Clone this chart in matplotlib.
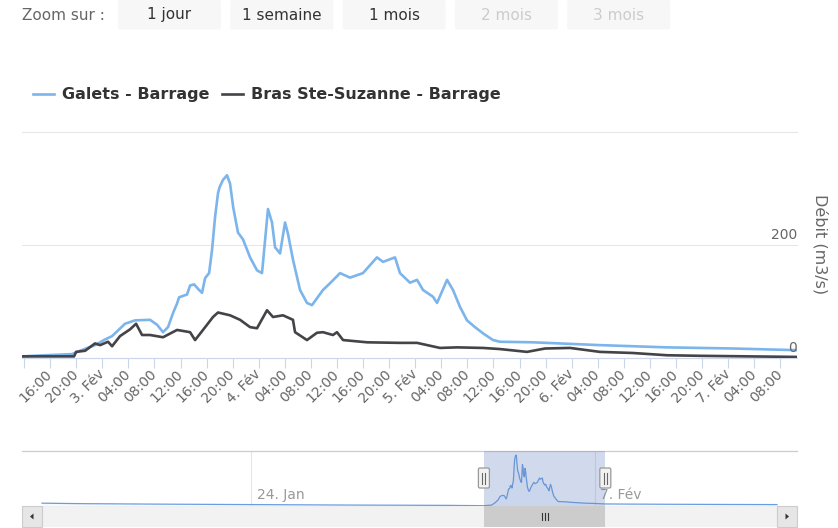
import matplotlib
matplotlib.use("Agg")
import matplotlib.pyplot as plt
import matplotlib.dates as mdates
import pandas as pd
from matplotlib.patches import Rectangle, FancyBboxPatch, Polygon

plt.rcParams['font.family'] = ['DejaVu Sans']

# ---------------- data ----------------
galets_time = [
    "2022-02-02 11:41", "2022-02-02 15:13", "2022-02-02 19:22", "2022-02-02 20:35", "2022-02-02 22:53",
    "2022-02-03 00:25", "2022-02-03 01:30", "2022-02-03 03:29", "2022-02-03 05:01", "2022-02-03 07:20",
    "2022-02-03 08:25", "2022-02-03 09:19", "2022-02-03 10:05", "2022-02-03 10:51", "2022-02-03 11:28",
    "2022-02-03 11:47", "2022-02-03 13:00", "2022-02-03 13:28", "2022-02-03 14:05", "2022-02-03 14:51",
    "2022-02-03 15:18", "2022-02-03 15:46", "2022-02-03 16:23", "2022-02-03 16:50", "2022-02-03 17:18",
    "2022-02-03 17:45", "2022-02-03 18:00", "2022-02-03 18:32", "2022-02-03 19:08", "2022-02-03 19:36",
    "2022-02-03 20:05", "2022-02-03 20:49", "2022-02-03 21:35",
    "2022-02-03 22:40", "2022-02-03 23:44", "2022-02-04 00:30", "2022-02-04 01:25", "2022-02-04 02:02",
    "2022-02-04 02:30", "2022-02-04 03:16", "2022-02-04 04:02", "2022-02-04 04:29", "2022-02-04 05:15",
    "2022-02-04 06:20", "2022-02-04 07:24", "2022-02-04 08:10", "2022-02-04 09:51", "2022-02-04 10:56",
    "2022-02-04 12:28", "2022-02-04 14:00", "2022-02-04 15:59", "2022-02-04 18:08", "2022-02-04 19:04",
    "2022-02-04 20:54", "2022-02-04 21:40", "2022-02-04 23:12", "2022-02-05 00:17", "2022-02-05 01:12",
    "2022-02-05 02:44", "2022-02-05 03:21", "2022-02-05 04:53", "2022-02-05 05:48", "2022-02-05 06:52",
    "2022-02-05 07:57", "2022-02-05 09:10", "2022-02-05 10:24", "2022-02-05 11:56", "2022-02-05 13:00",
    "2022-02-05 18:04", "2022-02-06 04:20", "2022-02-06 14:37", "2022-02-07 00:44", "2022-02-07 10:34",
]
galets_value = [
    2, 4, 6, 12, 22,
    32, 38, 60, 66, 67,
    58, 45, 54, 79, 96,
    107, 112, 128, 130, 120,
    115, 141, 150, 191, 250,
    292, 303, 316, 324, 309,
    267, 222, 210,
    178, 155, 150, 264, 240,
    196, 185, 240, 220, 174,
    120, 97, 93, 120, 132,
    150, 142, 150, 178, 170,
    178, 150, 133, 138, 120,
    108, 97, 138, 120, 90,
    66, 54, 43, 31, 28,
    27, 22, 18, 16, 13,
]

bras_time = [
    "2022-02-02 11:41", "2022-02-02 19:40", "2022-02-02 19:59", "2022-02-02 21:22", "2022-02-02 22:53",
    "2022-02-02 23:40", "2022-02-03 00:53", "2022-02-03 01:30", "2022-02-03 02:43", "2022-02-03 04:15",
    "2022-02-03 05:11", "2022-02-03 06:06", "2022-02-03 07:20", "2022-02-03 09:19", "2022-02-03 11:28",
    "2022-02-03 13:28", "2022-02-03 14:14", "2022-02-03 15:27", "2022-02-03 16:59", "2022-02-03 17:45",
    "2022-02-03 19:36", "2022-02-03 21:08", "2022-02-03 22:40", "2022-02-03 23:44", "2022-02-04 01:16",
    "2022-02-04 02:11", "2022-02-04 03:43", "2022-02-04 05:15", "2022-02-04 05:34", "2022-02-04 07:24",
    "2022-02-04 08:56", "2022-02-04 09:51", "2022-02-04 11:23", "2022-02-04 12:00", "2022-02-04 12:56",
    "2022-02-04 16:37", "2022-02-04 21:40", "2022-02-05 00:17", "2022-02-05 03:48", "2022-02-05 06:25",
    "2022-02-05 10:24", "2022-02-05 13:00", "2022-02-05 17:09", "2022-02-05 19:55", "2022-02-05 23:45",
    "2022-02-06 04:20", "2022-02-06 09:24", "2022-02-06 14:37", "2022-02-06 19:41", "2022-02-07 10:34",
]
bras_value = [
    2, 2, 10, 12, 25,
    22, 28, 20, 38, 50,
    60, 40, 40, 36, 49,
    45, 31, 49, 72, 80,
    75, 67, 54, 52, 84,
    72, 75, 67, 45, 31,
    44, 45, 40, 45, 31,
    27, 26, 26, 17, 18,
    17, 15, 10, 16, 17,
    10, 8, 4, 3, 1,
]

# navigator-only extension of the Galets series (outside the zoomed window)
nav_before_time = ["2022-01-15 11:00", "2022-01-17 00:00", "2022-01-20 00:00",
                   "2022-01-24 00:00", "2022-01-28 00:00", "2022-02-01 00:00"]
nav_before_value = [18, 15, 12, 9, 6, 4]
nav_after_time = ["2022-02-08 12:00", "2022-02-10 00:00", "2022-02-12 00:00", "2022-02-14 10:40"]
nav_after_value = [12, 11, 10, 9]

series_names = ["Galets - Barrage", "Bras Ste-Suzanne - Barrage"]
y_ticks = [0, 200, 400]
y_tick_labels = ["0", "200", ""]
y_title = "Débit (m3/s)"
zoom_label = "Zoom sur :"
zoom_buttons = ["1 jour", "1 semaine", "1 mois", "2 mois", "3 mois"]
zoom_enabled = [True, True, True, False, False]
nav_tick_dates = ["2022-01-24", "2022-02-07"]
nav_tick_labels = ["24. Jan", "7. Fév"]
mois = {1: "Jan", 2: "Fév"}

win_start = pd.Timestamp("2022-02-02 11:41")
win_end = pd.Timestamp("2022-02-07 10:34")

# ---------------- layout ----------------
W, H = 838, 528
fig = plt.figure(figsize=(W / 100, H / 100), dpi=100)


def rect(l, t, r, b):
    return [l / W, 1 - b / H, (r - l) / W, (b - t) / H]


ui = fig.add_axes([0, 0, 1, 1], zorder=0)
ui.set_xlim(0, W); ui.set_ylim(H, 0); ui.axis('off')

ax = fig.add_axes(rect(22, 132.5, 797, 357.5), zorder=2)
ax.patch.set_alpha(0)
nav = fig.add_axes(rect(22, 451, 797, 506), zorder=1)
nav.patch.set_alpha(0)
top = fig.add_axes([0, 0, 1, 1], zorder=3)
top.set_xlim(0, W); top.set_ylim(H, 0); top.axis('off'); top.patch.set_alpha(0)

BLUE = '#7cb5ec'
DARK = '#434348'

gt = pd.to_datetime(galets_time)
bt = pd.to_datetime(bras_time)
l1, = ax.plot(gt, galets_value, color=BLUE, lw=1.9, solid_joinstyle='round', zorder=3)
l2, = ax.plot(bt, bras_value, color=DARK, lw=1.9, solid_joinstyle='round', zorder=4)
ax.set_xlim(win_start, win_end)
ax.set_ylim(0, 400)
for s in ['top', 'left', 'right']:
    ax.spines[s].set_visible(False)
ax.spines['bottom'].set_color('#ccd6eb')
ax.spines['bottom'].set_linewidth(0.8)
ax.set_yticks(y_ticks)
ax.tick_params(axis='y', length=0, labelleft=False)
for v in y_ticks:
    ax.axhline(v, color='#e6e6e6', lw=0.75, zorder=0, clip_on=False)
for v, lab in zip(y_ticks, y_tick_labels):
    if lab:
        ax.annotate(lab, xy=(1, v), xycoords=('axes fraction', 'data'), xytext=(0, 2),
                    textcoords='offset points', ha='right', va='bottom', color='#666666', fontsize=10)

ticks = pd.date_range("2022-02-02 12:00", "2022-02-07 08:00", freq="4h")
labels = []
for i, t in enumerate(ticks):
    if i == 0:
        labels.append("")
    elif t.hour == 0:
        labels.append(f"{t.day}. {mois[t.month]}")
    else:
        labels.append(t.strftime("%H:%M"))
ax.set_xticks(ticks)
ax.set_xticklabels(labels)
ax.tick_params(axis='x', length=7.5, width=0.8, color='#ccd6eb', labelsize=10,
               labelcolor='#666666', pad=3)
for lab in ax.get_xticklabels():
    lab.set_rotation(45)
    lab.set_ha('right')
    lab.set_va('center')
    lab.set_rotation_mode('anchor')

fig.text(820 / W, 1 - 244 / H, y_title, rotation=270, ha='center', va='center',
         color='#666666', fontsize=11.5)

leg = fig.legend(handles=[l1, l2], labels=series_names, loc='center left',
                 bbox_to_anchor=(33 / W, 1 - 95 / H), ncol=2, frameon=False,
                 prop={'weight': 'bold', 'size': 11.5}, labelcolor='#333333',
                 handlelength=1.3, handletextpad=0.5, columnspacing=0.8,
                 borderpad=0, borderaxespad=0)

# ---------------- zoom buttons ----------------
ui.text(22, 15, zoom_label, ha='left', va='center', color='#666666', fontsize=11)
bx = 118
for lab, en in zip(zoom_buttons, zoom_enabled):
    ui.add_patch(FancyBboxPatch((bx, 0), 103, 29.5, boxstyle="round,pad=0,rounding_size=2",
                                fc='#f7f7f7', ec='none'))
    ui.text(bx + 51.5, 15, lab, ha='center', va='center', fontsize=11,
            color='#333333' if en else '#cccccc')
    bx += 112.3

# ---------------- navigator ----------------
nt = pd.to_datetime(nav_before_time + galets_time + nav_after_time)
nv = nav_before_value + galets_value + nav_after_value
d0 = mdates.date2num(nt[0]); d1 = mdates.date2num(nt[-1])
pad_days = 20 * (d1 - d0) / 735
nav.plot(nt, nv, color='#6a9de0', lw=0.9, zorder=2)
nav.fill_between(nt, nv, 0, color='#6a9de0', alpha=0.06, lw=0, zorder=1)
nav.set_xlim(d0 - pad_days, d1 + pad_days)
nav.set_ylim(0, max(nv) * 55 / 51)
for s in ['left', 'right', 'bottom']:
    nav.spines[s].set_visible(False)
nav.spines['top'].set_color('#cccccc')
nav.spines['top'].set_linewidth(0.9)
nd = pd.to_datetime(nav_tick_dates)
nav.set_xticks(nd)
nav.xaxis.grid(True, color='#e6e6e6', lw=0.8)
nav.set_yticks([])
nav.tick_params(axis='x', length=0, labelbottom=False)
for d, lab in zip(nd, nav_tick_labels):
    nav.annotate(lab, xy=(d, 0), xycoords=('data', 'axes fraction'), xytext=(4.3, 7.9),
                 textcoords='offset points', ha='left', va='center', color='#999999', fontsize=10)
nav.axvspan(win_start, win_end, color=(102 / 255, 133 / 255, 194 / 255, 0.3), lw=0, zorder=3)


def nav_px(ts):
    disp = nav.transData.transform((mdates.date2num(ts), 0))
    return top.transData.inverted().transform(disp)[0]


xs, xe = nav_px(win_start), nav_px(win_end)

# scrollbar
ui.add_patch(Rectangle((22, 506), 775, 21, fc='#f2f2f2', ec='none'))
for bx0, direction in [(22, -1), (777, 1)]:
    ui.add_patch(Rectangle((bx0, 506), 20, 21, fc='#e6e6e6', ec='#cccccc', lw=0.8))
    cx, cy = bx0 + 10, 516.5
    if direction < 0:
        tri = [(cx - 2, cy), (cx + 1.5, cy - 3), (cx + 1.5, cy + 3)]
    else:
        tri = [(cx + 2, cy), (cx - 1.5, cy - 3), (cx - 1.5, cy + 3)]
    ui.add_patch(Polygon(tri, closed=True, fc='#333333', ec='none'))
top.add_patch(Rectangle((xs, 506), xe - xs, 21, fc='#cccccc', ec='none'))
mid = (xs + xe) / 2
for dx in (-3, 0, 3):
    top.plot([mid + dx, mid + dx], [513, 520], color='#333333', lw=0.8)

# handles
for hx in (xs, xe):
    top.add_patch(FancyBboxPatch((hx - 5.5, 468), 11, 20, boxstyle="round,pad=0,rounding_size=1.5",
                                 fc='#f2f2f2', ec='#999999', lw=0.9))
    for dx in (-1.5, 1.5):
        top.plot([hx + dx, hx + dx], [472.5, 483.5], color='#666666', lw=0.8)

fig.savefig("out.png", dpi=100)
